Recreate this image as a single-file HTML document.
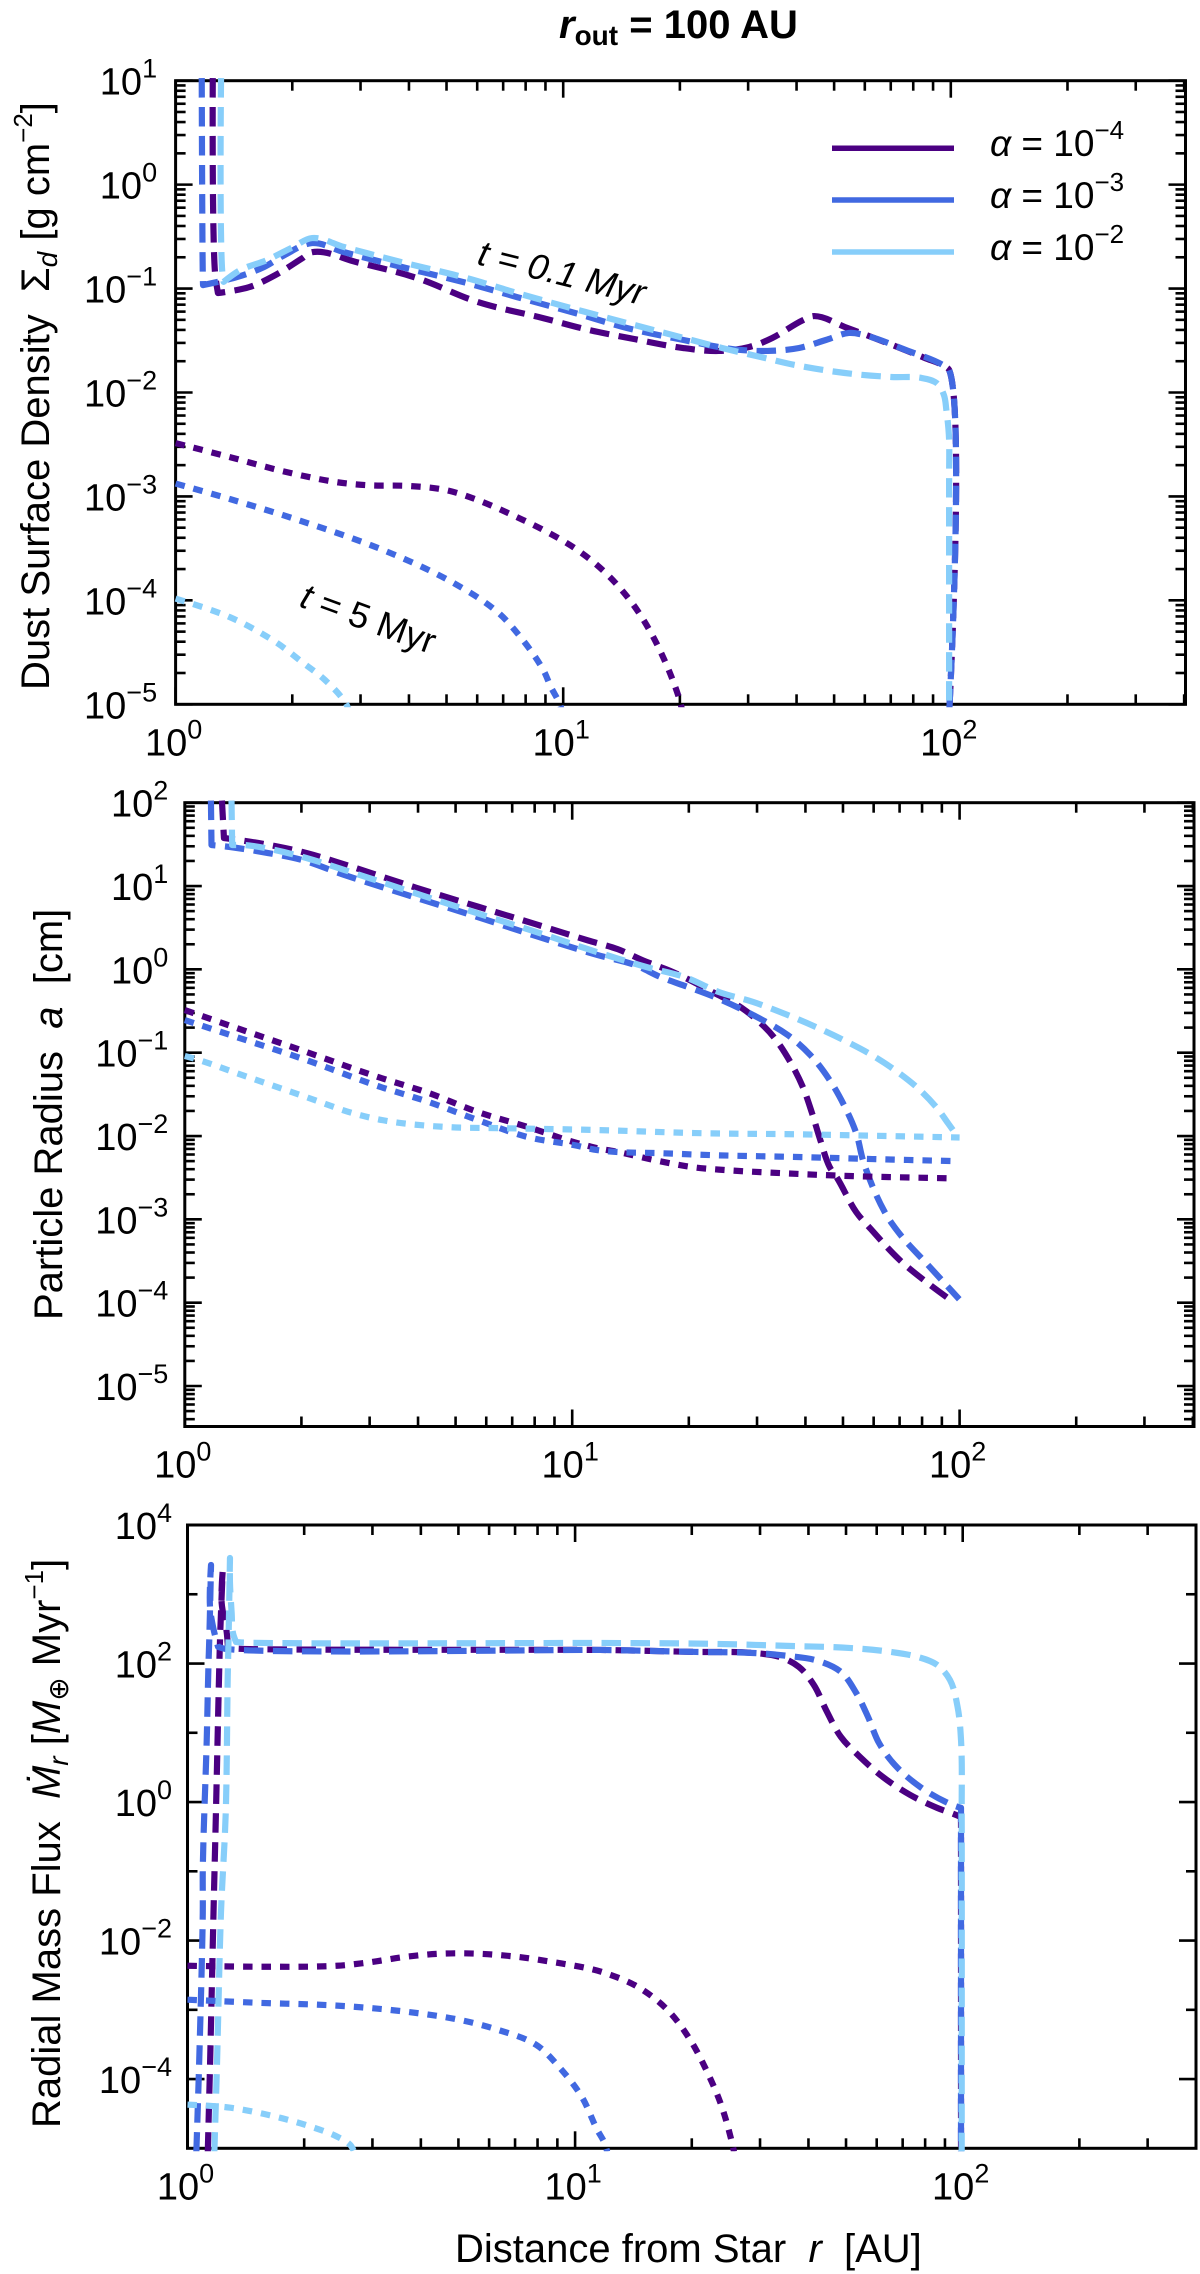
<!DOCTYPE html>
<html lang="en">
<head>
<meta charset="utf-8">
<title>Dust evolution for r_out = 100 AU</title>
<style>
html,body{margin:0;padding:0;background:#fff;}
svg{display:block;}
text{font-family:"Liberation Sans","DejaVu Sans",sans-serif;fill:#000;}
</style>
</head>
<body>
<svg id="figure" xmlns="http://www.w3.org/2000/svg" width="1200" height="2274" viewBox="0 0 1200 2274">
  <rect x="0" y="0" width="1200" height="2274" fill="#fff"/>
  <text x="559" y="38" font-size="40" font-weight="bold"><tspan font-style="italic">r</tspan><tspan font-size="28" dy="7">out</tspan><tspan dy="-7"> = 100 AU</tspan></text>

  <g id="panels"></g>

  <g transform="translate(49,690) rotate(-90)">
    <text font-size="40" xml:space="preserve">Dust Surface Density  Σ<tspan font-size="28" font-style="italic" dy="8">d</tspan><tspan dy="-8"> [g cm</tspan><tspan font-size="26" dy="-17">−2</tspan><tspan dy="17">]</tspan></text>
  </g>
  <g transform="translate(62,1320) rotate(-90)">
    <text font-size="40" xml:space="preserve">Particle Radius  <tspan font-style="italic">a</tspan>  [cm]</text>
  </g>
  <g transform="translate(60,2128) rotate(-90)">
    <text font-size="40" xml:space="preserve">Radial Mass Flux  <tspan font-style="italic">Ṁ</tspan><tspan font-size="28" font-style="italic" dy="8">r</tspan><tspan dy="-8"> [</tspan><tspan font-style="italic">M</tspan><tspan font-size="28" dy="8">⊕</tspan><tspan dy="-8"> Myr</tspan><tspan font-size="26" dy="-17">−1</tspan><tspan dy="17">]</tspan></text>
  </g>
  <text x="455" y="2262" font-size="40" xml:space="preserve">Distance from Star  <tspan font-style="italic">r</tspan>  [AU]</text>

  <g>
    <line x1="832" x2="954" y1="148.3" y2="148.3" stroke="#4B0082" stroke-width="5.5"/>
    <line x1="832" x2="954" y1="200" y2="200" stroke="#4169E1" stroke-width="5.5"/>
    <line x1="832" x2="954" y1="252" y2="252" stroke="#87CEFA" stroke-width="5.5"/>
    <text x="990" y="156" font-size="37"><tspan font-style="italic">α</tspan> = 10<tspan font-size="26" dy="-17">−4</tspan></text>
    <text x="990" y="208" font-size="37"><tspan font-style="italic">α</tspan> = 10<tspan font-size="26" dy="-17">−3</tspan></text>
    <text x="990" y="260" font-size="37"><tspan font-style="italic">α</tspan> = 10<tspan font-size="26" dy="-17">−2</tspan></text>
  </g>

  <text transform="translate(476,264) rotate(14)" font-size="36" font-style="italic">t = 0.1 Myr</text>
  <text transform="translate(298,606) rotate(20)" font-size="36"><tspan font-style="italic">t</tspan> = 5 Myr</text>
</svg>

<script>
// ---- tick values ----
const xDecades = [1, 10, 100];
const xDecadeLabels = ["0", "1", "2"];
const minorMultipliers = [2, 3, 4, 5, 6, 7, 8, 9];
const sigmaExponents = [1, 0, -1, -2, -3, -4, -5];
const radiusExponents = [2, 1, 0, -1, -2, -3, -4, -5];
const fluxMajorExponents = [4, 2, 0, -2, -4];
const fluxMinorExponents = [3, 1, -1, -3];

// ---- surface density, t = 0.1 Myr (dashed) ----
const sigmaEarlyR_a4 = [1.247,1.264,1.286,1.546,1.81,2.12,2.25,2.92,4.2,6.03,8.87,11.7,14.8,20.5,25.2,30.2,34.6,41.6,44.4,53.3,85.7,97.2,99,99];
const sigmaEarlyV_a4 = [10.6,0.141,0.0906,0.103,0.135,0.195,0.224,0.18,0.126,0.0741,0.052,0.0398,0.0334,0.0267,0.0251,0.0274,0.0334,0.0498,0.0544,0.0427,0.0215,0.0176,0.0165,0.000008];
const sigmaEarlyR_a3 = [1.168,1.175,1.177,1.44,1.69,1.91,2.25,2.72,3.84,5.65,7.6,11.2,14.6,20.5,25.2,28.9,33.7,40.6,47.6,54.6,59.7,76.6,97.2,99,99];
const sigmaEarlyV_a3 = [10.6,0.141,0.108,0.129,0.161,0.21,0.274,0.224,0.161,0.113,0.0828,0.0556,0.0417,0.0319,0.0274,0.0256,0.0251,0.0268,0.032,0.0374,0.0357,0.0256,0.0176,0.0165,0.000008];
const sigmaEarlyR_a2 = [1.31,1.32,1.33,1.47,1.72,2.01,2.25,2.72,3.84,5.65,7.6,11.4,14.6,20.5,25.7,32.4,39.6,53.3,70.1,84,92,96,97.4,98.6,99,99,99];
const sigmaEarlyV_a2 = [10.6,0.141,0.116,0.151,0.188,0.251,0.306,0.251,0.179,0.126,0.0906,0.0596,0.0466,0.0334,0.0268,0.0219,0.0184,0.0154,0.0141,0.0138,0.0123,0.00944,0.00678,0.00448,0.00348,0.00148,0.000008];

// ---- surface density, t = 5 Myr (dotted) ----
const sigmaLateR_a4 = [1,1.38,1.89,2.61,3.15,4.01,4.99,6.03,7.41,9.08,10.9,12.9,15,16.7,18.4,19.9,20.1,20.4];
const sigmaLateV_a4 = [0.00326,0.00239,0.00175,0.00137,0.00128,0.00126,0.00115,0.00092,0.00066,0.000456,0.000304,0.000182,0.000096,0.0000516,0.0000248,0.0000115,0.00001,0.000008];
const sigmaLateR_a3 = [1,1.38,2.07,3.43,5.16,6.77,7.76,8.89,9.3,9.75,9.9];
const sigmaLateV_a3 = [0.00133,0.000944,0.000593,0.000305,0.00015,0.0000771,0.0000443,0.0000213,0.0000146,0.0000105,0.000009];
const sigmaLateR_a2 = [1,1.38,1.81,2.12,2.43,2.75,2.79];
const sigmaLateV_a2 = [0.000104,0.0000689,0.0000398,0.0000255,0.0000171,0.0000102,0.000009];

// ---- particle radius, t = 0.1 Myr (dashed) ----
const radiusEarlyR_a4 = [1.247,1.262,1.43,1.71,2.06,2.47,3.97,5.71,8.07,11,13.1,15.3,18.2,23.3,27.4,31.4,33.6,36.7,39.4,41.6,43.7,46.2,48.3,54.1,59,70.1,83.4,96.6];
const radiusEarlyV_a4 = [106,37.7,34.8,30.2,24.9,19.4,9.49,5.66,3.47,2.22,1.75,1.27,0.929,0.52,0.344,0.203,0.142,0.075,0.0386,0.0188,0.00893,0.00424,0.00313,0.00122,0.000764,0.000324,0.000167,0.000101];
const radiusEarlyR_a3 = [1.168,1.172,1.31,1.64,2.01,2.58,3.8,5.48,8.07,11.6,14.5,16.9,19.9,23.3,29.3,36,41.2,46.2,50.6,54.1,56.6,64.1,70.1,83.4,99.8];
const radiusEarlyV_a3 = [106,31,29.4,24.9,20.5,13.6,7.66,4.5,2.51,1.49,1.13,0.809,0.614,0.466,0.283,0.163,0.0935,0.0469,0.0222,0.0108,0.00473,0.00122,0.000665,0.000274,0.00011];
const radiusEarlyR_a2 = [1.32,1.325,1.43,1.71,2.06,2.58,4.07,5.71,8.07,11.6,15.5,19.5,23.9,29.3,36,43.1,51.9,59.4,68.1,78,87.5,93.3,99.1];
const radiusEarlyV_a2 = [106,31,31,27,21.7,15.6,7.8,4.69,2.81,1.61,1.07,0.809,0.535,0.406,0.283,0.198,0.131,0.0935,0.0618,0.0376,0.0216,0.0143,0.0097];

// ---- particle radius, t = 5 Myr (dotted) ----
const radiusLateR_a4 = [1,1.36,2.06,3.1,4.27,5.71,7.69,10.1,11.6,13.2,16.3,20.4,24.9,34.4,53.1,95];
const radiusLateV_a4 = [0.325,0.198,0.102,0.0524,0.0327,0.0194,0.0128,0.00845,0.00716,0.00641,0.00514,0.00424,0.0039,0.00359,0.0033,0.00311];
const radiusLateR_a3 = [1,1.36,2.06,3.1,4.27,5.71,7.69,10.1,11.6,13.2,16.6,22.8,39.4,60.7,97];
const radiusLateV_a3 = [0.246,0.154,0.0815,0.0408,0.0255,0.0155,0.0097,0.00778,0.00678,0.00641,0.00624,0.0059,0.00558,0.00528,0.005];
const radiusLateR_a2 = [1,1.09,1.36,2.06,2.77,3.47,4.78,6.71,11.6,21.7,37.6,89.5,100];
const radiusLateV_a2 = [0.0912,0.0815,0.0569,0.0293,0.0183,0.0147,0.0128,0.0124,0.0118,0.0108,0.0105,0.0097,0.0096];

// ---- mass flux, t = 0.1 Myr (dashed) ----
const fluxEarlyR_a4 = [1.128,1.143,1.167,1.184,1.206,1.213,1.232,1.225,1.262,1.272,1.366,11.6,20.5,28.8,33.8,37.8,41.3,44.4,48.5,54.3,62.2,73.1,85.9,97.3,99,99];
const fluxEarlyV_a4 = [0.00000896,0.000151,0.0252,0.698,64.1,219,2100,748,286,168,163,157,147,142,124,89.3,49.1,21.4,8.73,4.49,2.31,1.27,0.824,0.632,0.6,0.00000896];
const fluxEarlyR_a3 = [1.054,1.071,1.095,1.095,1.121,1.133,1.138,1.15,1.143,1.164,1.199,1.25,11.6,20.5,28.8,35.3,42.4,48.5,53.1,57,60.8,66.8,78.3,93.8,99,99];
const fluxEarlyV_a3 = [0.00000896,0.000151,0.0252,0.105,7.9,102,219,2650,656,337,174,163,157,147,142,129,109,75.7,37.7,16.9,7.14,3.44,1.6,0.912,0.824,0.00000896];
const fluxEarlyR_a2 = [1.173,1.191,1.22,1.255,1.27,1.276,1.287,1.287,1.3,1.31,1.334,1.39,11.6,23,36.1,50.9,65.3,76.7,85.9,92.7,97,99,99.4,99.4];
const fluxEarlyV_a2 = [0.00000896,0.000151,0.0252,0.698,64.1,219,3340,1455,537,277,205,201,198,192,179,168,147,124,95.5,57.9,23.7,7.91,0.698,0.00000896];

// ---- mass flux, t = 5 Myr (dotted) ----
const fluxLateR_a4 = [1,1.54,2.43,2.9,3.66,4.49,5.62,7.08,8.67,10.9,11.9,14.5,17.3,19.8,21.9,23.8,25.4,25.7];
const fluxLateV_a4 = [0.00433,0.00419,0.00433,0.00479,0.00583,0.00646,0.00646,0.00583,0.00494,0.00392,0.00343,0.00215,0.001,0.000371,0.000128,0.0000428,0.0000121,0.00000896];
const fluxLateR_a3 = [1,1.54,2.43,3.66,5.01,6.31,7.93,9.08,10.4,11.4,11.9,12.1];
const fluxLateV_a3 = [0.0014,0.00126,0.00115,0.00094,0.00072,0.000516,0.000313,0.000151,0.0000557,0.0000186,0.0000121,0.00000896];
const fluxLateR_a2 = [1,1.29,1.73,2.12,2.43,2.63,2.69];
const fluxLateV_a2 = [0.0000428,0.0000386,0.0000277,0.0000199,0.0000148,0.0000112,0.00000896];

// ---- layout ----
const SVGNS = "http://www.w3.org/2000/svg";
const root = document.getElementById("panels");
const INDIGO = "#4B0082", ROYAL = "#4169E1", SKY = "#87CEFA";
const DASHED = "19.5 9.5", DOTTED = "9.5 9";

function make(tag, parent) {
  const node = document.createElementNS(SVGNS, tag);
  parent.appendChild(node);
  return node;
}

// Smooth path through points, keeping sharp corners where direction changes abruptly.
function smoothPath(pts) {
  const n = pts.length;
  const unit = function (a, b) {
    const dx = b[0] - a[0], dy = b[1] - a[1];
    const len = Math.hypot(dx, dy) || 1;
    return [dx / len, dy / len, len];
  };
  const tangents = pts.map(function (p, i) {
    if (i === 0 || i === n - 1) return [0, 0];
    const a = unit(pts[i - 1], p), b = unit(p, pts[i + 1]);
    if (a[0] * b[0] + a[1] * b[1] < 0.6) return [0, 0];
    const sx = a[0] + b[0], sy = a[1] + b[1];
    const sl = Math.hypot(sx, sy) || 1;
    return [sx / sl, sy / sl];
  });
  let d = "M" + pts[0][0].toFixed(2) + " " + pts[0][1].toFixed(2);
  for (let i = 0; i < n - 1; i++) {
    const len = Math.min(unit(pts[i], pts[i + 1])[2] / 3, 40);
    const c1 = [pts[i][0] + tangents[i][0] * len, pts[i][1] + tangents[i][1] * len];
    const c2 = [pts[i + 1][0] - tangents[i + 1][0] * len, pts[i + 1][1] - tangents[i + 1][1] * len];
    d += " C" + c1[0].toFixed(2) + " " + c1[1].toFixed(2) + " " + c2[0].toFixed(2) + " " + c2[1].toFixed(2) + " " + pts[i + 1][0].toFixed(2) + " " + pts[i + 1][1].toFixed(2);
  }
  return d;
}

function buildPanel(cfg) {
  const xPos = r => cfg.left + cfg.xDecade * Math.log10(r);
  const yPos = v => cfg.top + cfg.yDecade * (cfg.yMaxExp - Math.log10(v));

  const group = make("g", root);
  
  

  const clip = make("clipPath", group);
  clip.setAttribute("id", cfg.name + "-clip");
  const clipRect = make("rect", clip);
  clipRect.setAttribute("x", cfg.left - 3);
  clipRect.setAttribute("y", cfg.top - 3);
  clipRect.setAttribute("width", cfg.right - cfg.left + 6);
  clipRect.setAttribute("height", cfg.bottom - cfg.top + 6);

  const frame = make("rect", group);
  
  
  frame.setAttribute("x", cfg.left);
  frame.setAttribute("y", cfg.top);
  frame.setAttribute("width", cfg.right - cfg.left);
  frame.setAttribute("height", cfg.bottom - cfg.top);
  frame.setAttribute("fill", "none");
  frame.setAttribute("stroke", "#000");
  frame.setAttribute("stroke-width", "3");

  const MAJOR = 17, MINOR = 10;

  function xTick(px, len) {
    [[cfg.top, 1], [cfg.bottom, -1]].forEach(function (edge) {
      const t = make("line", group);
      
      
      t.setAttribute("x1", px);
      t.setAttribute("x2", px);
      t.setAttribute("y1", edge[0]);
      t.setAttribute("y2", edge[0] + edge[1] * len);
      t.setAttribute("stroke", "#000");
      t.setAttribute("stroke-width", "2.6");
    });
  }
  function yTick(py, len) {
    [[cfg.left, 1], [cfg.right, -1]].forEach(function (edge) {
      const t = make("line", group);
      
      
      t.setAttribute("x1", edge[0]);
      t.setAttribute("x2", edge[0] + edge[1] * len);
      t.setAttribute("y1", py);
      t.setAttribute("y2", py);
      t.setAttribute("stroke", "#000");
      t.setAttribute("stroke-width", "2.6");
    });
  }
  function powerLabel(x, y, anchor, exp, name) {
    const label = make("text", group);
    
    
    label.setAttribute("x", x);
    label.setAttribute("y", y);
    label.setAttribute("text-anchor", anchor);
    label.setAttribute("font-size", "38");
    const base = make("tspan", label);
    base.textContent = "10";
    const sup = make("tspan", label);
    sup.setAttribute("font-size", "27");
    sup.setAttribute("dy", "-17");
    sup.textContent = String(exp).replace("-", "\u2212");
  }

  // x axis
  xDecades.forEach(function (d, i) {
    xTick(xPos(d), MAJOR);
    powerLabel(xPos(d) - 2, cfg.bottom + 51, "middle", xDecadeLabels[i], cfg.name + "-x-tick-label");
    minorMultipliers.forEach(function (m) {
      if (d * m < cfg.xMax) xTick(xPos(d * m), MINOR);
    });
  });

  // y axis
  cfg.majorExps.forEach(function (e) {
    yTick(yPos(Math.pow(10, e)), MAJOR);
    powerLabel(cfg.left - cfg.labelGap, yPos(Math.pow(10, e)) + 14, "end", e, cfg.name + "-y-tick-label");
    if (cfg.decadeMinors) {
      minorMultipliers.forEach(function (m) {
        const v = m * Math.pow(10, e);
        if (yPos(v) > cfg.top && yPos(v) < cfg.bottom) yTick(yPos(v), MINOR);
      });
      minorMultipliers.forEach(function (m) {
        const v = m * Math.pow(10, e - 1);
        if (e === cfg.majorExps[cfg.majorExps.length - 1] && yPos(v) > cfg.top && yPos(v) < cfg.bottom) yTick(yPos(v), MINOR);
      });
    }
  });
  cfg.minorExps.forEach(function (e) {
    yTick(yPos(Math.pow(10, e)), MINOR);
  });

  // series
  const lines = make("g", group);
  
  
  lines.setAttribute("clip-path", "url(#" + cfg.name + "-clip)");
  cfg.series.forEach(function (s) {
    const pts = s.r.map(function (r, i) {
      return [xPos(r), yPos(s.v[i])];
    });
    const path = make("path", lines);
    
    
    path.setAttribute("d", smoothPath(pts));
    path.setAttribute("fill", "none");
    path.setAttribute("stroke", s.color);
    path.setAttribute("stroke-width", "6.2");
    path.setAttribute("stroke-linejoin", "round");
    path.setAttribute("stroke-dasharray", s.dash);
  });
}

buildPanel({
  name: "surface-density", left: 175.6, right: 1185.5, top: 80.7, bottom: 704.3,
  xDecade: 387.6, xMax: 404, yDecade: 103.93, yMaxExp: 1, labelGap: 18.5,
  majorExps: sigmaExponents, minorExps: [], decadeMinors: true,
  series: [
    {r: sigmaEarlyR_a4, v: sigmaEarlyV_a4, color: INDIGO, dash: DASHED, label: "early-alpha-1e-4"},
    {r: sigmaEarlyR_a3, v: sigmaEarlyV_a3, color: ROYAL, dash: DASHED, label: "early-alpha-1e-3"},
    {r: sigmaEarlyR_a2, v: sigmaEarlyV_a2, color: SKY, dash: DASHED, label: "early-alpha-1e-2"},
    {r: sigmaLateR_a4, v: sigmaLateV_a4, color: INDIGO, dash: DOTTED, label: "late-alpha-1e-4"},
    {r: sigmaLateR_a3, v: sigmaLateV_a3, color: ROYAL, dash: DOTTED, label: "late-alpha-1e-3"},
    {r: sigmaLateR_a2, v: sigmaLateV_a2, color: SKY, dash: DOTTED, label: "late-alpha-1e-2"}
  ]
});

buildPanel({
  name: "particle-radius", left: 184.8, right: 1194, top: 802.7, bottom: 1426.5,
  xDecade: 387.4, xMax: 404, yDecade: 83.33, yMaxExp: 2, labelGap: 16.5,
  majorExps: radiusExponents, minorExps: [], decadeMinors: true,
  series: [
    {r: radiusEarlyR_a4, v: radiusEarlyV_a4, color: INDIGO, dash: DASHED, label: "early-alpha-1e-4"},
    {r: radiusEarlyR_a3, v: radiusEarlyV_a3, color: ROYAL, dash: DASHED, label: "early-alpha-1e-3"},
    {r: radiusEarlyR_a2, v: radiusEarlyV_a2, color: SKY, dash: DASHED, label: "early-alpha-1e-2"},
    {r: radiusLateR_a4, v: radiusLateV_a4, color: INDIGO, dash: DOTTED, label: "late-alpha-1e-4"},
    {r: radiusLateR_a3, v: radiusLateV_a3, color: ROYAL, dash: DOTTED, label: "late-alpha-1e-3"},
    {r: radiusLateR_a2, v: radiusLateV_a2, color: SKY, dash: DOTTED, label: "late-alpha-1e-2"}
  ]
});

buildPanel({
  name: "mass-flux", left: 187.5, right: 1196, top: 1525, bottom: 2148.3,
  xDecade: 387.6, xMax: 404, yDecade: 69.26, yMaxExp: 4, labelGap: 15.5,
  majorExps: fluxMajorExponents, minorExps: fluxMinorExponents, decadeMinors: false,
  series: [
    {r: fluxEarlyR_a4, v: fluxEarlyV_a4, color: INDIGO, dash: DASHED, label: "early-alpha-1e-4"},
    {r: fluxEarlyR_a3, v: fluxEarlyV_a3, color: ROYAL, dash: DASHED, label: "early-alpha-1e-3"},
    {r: fluxEarlyR_a2, v: fluxEarlyV_a2, color: SKY, dash: DASHED, label: "early-alpha-1e-2"},
    {r: fluxLateR_a4, v: fluxLateV_a4, color: INDIGO, dash: DOTTED, label: "late-alpha-1e-4"},
    {r: fluxLateR_a3, v: fluxLateV_a3, color: ROYAL, dash: DOTTED, label: "late-alpha-1e-3"},
    {r: fluxLateR_a2, v: fluxLateV_a2, color: SKY, dash: DOTTED, label: "late-alpha-1e-2"}
  ]
});
</script>
</body>
</html>
